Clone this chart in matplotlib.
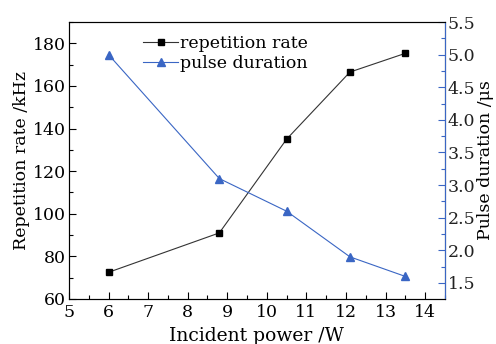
import matplotlib
matplotlib.use("Agg")
import matplotlib.pyplot as plt
from matplotlib.ticker import MultipleLocator, FormatStrFormatter

power = [6.0, 8.8, 10.5, 12.1, 13.5]
rep_rate = [72.5, 91.0, 135.0, 166.5, 175.3]
pulse_dur = [5.0, 3.1, 2.6, 1.9, 1.6]

plt.rcParams['font.family'] = ['DejaVu Serif']
plt.rcParams['font.size'] = 12.5
plt.rcParams['mathtext.fontset'] = 'dejavuserif'

fig = plt.figure(figsize=(4.96, 3.44), dpi=100)
ax = fig.add_axes([0.139, 0.131, 0.758, 0.805])
ax2 = ax.twinx()

blue = '#3a66c4'
l1, = ax.plot(power, rep_rate, color='#333333', lw=0.8, marker='s', ms=4.5,
              mfc='black', mec='black', label='repetition rate')
l2, = ax2.plot(power, pulse_dur, color=blue, lw=0.8, marker='^', ms=6,
               mfc=blue, mec=blue, label='pulse duration')

ax.set_xlim(5, 14.5)
ax.set_ylim(60, 190)
ax2.set_ylim(1.255, 5.5)

ax.xaxis.set_major_locator(MultipleLocator(1))
ax.xaxis.set_minor_locator(MultipleLocator(0.5))
ax.yaxis.set_major_locator(MultipleLocator(20))
ax.yaxis.set_minor_locator(MultipleLocator(10))
ax2.yaxis.set_major_locator(MultipleLocator(0.5))
ax2.yaxis.set_minor_locator(MultipleLocator(0.25))
ax2.yaxis.set_major_formatter(FormatStrFormatter('%.1f'))

ax.tick_params(axis='both', which='major', direction='in', length=5, width=0.8, pad=2)
ax.tick_params(axis='x', which='major', pad=4)
ax.tick_params(axis='both', which='minor', direction='in', length=3, width=0.8)
ax.tick_params(top=False, right=False, which='both')
ax2.tick_params(axis='y', which='major', direction='in', length=5, width=0.8,
                colors=blue, labelcolor='#222222', pad=2)
ax2.tick_params(axis='y', which='minor', direction='in', length=3, width=0.8, colors=blue)
ax2.spines['right'].set_color(blue)
for s in ['left', 'bottom', 'top']:
    ax.spines[s].set_color('#333333')

ax.set_xlabel('Incident power /W', labelpad=4, fontsize=13.5)
ax.set_ylabel('Repetition rate /kHz', labelpad=2)
ax2.set_ylabel('Pulse duration /μs', labelpad=1)

ax.legend([l1, l2], ['repetition rate', 'pulse duration'], loc='upper left',
          bbox_to_anchor=(0.17, 0.99), frameon=False, handlelength=2.0,
          handletextpad=0.1, borderaxespad=0.2, labelspacing=0.15, fontsize=12.5)

fig.savefig('out.png', dpi=100)
